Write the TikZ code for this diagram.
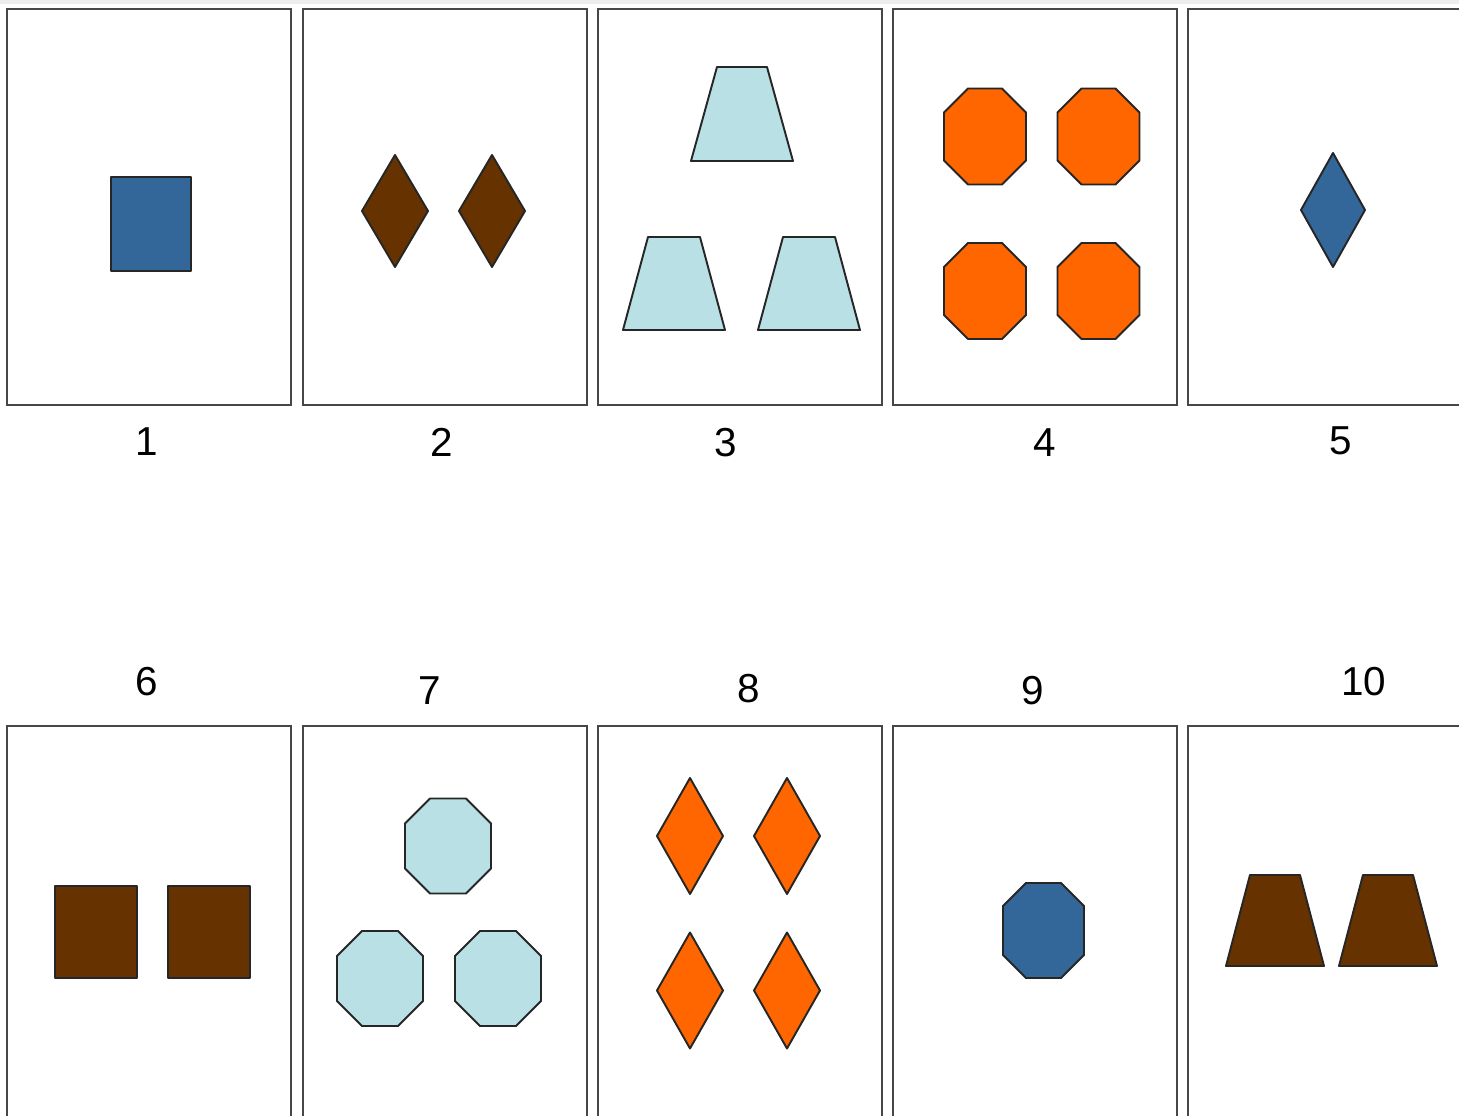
\documentclass[tikz,border=0pt]{standalone}
\usepackage{fontspec}
\setmainfont{Liberation Sans}
\usetikzlibrary{positioning}
\definecolor{cardblue}{HTML}{336699}
\definecolor{cardbrown}{HTML}{663300}
\definecolor{cardcyan}{HTML}{B9E0E4}
\definecolor{cardorange}{HTML}{FF6600}
\tikzset{
  card/.style={draw=black!72, line width=0.7pt, fill=white},
  shp/.style={draw=black!85, line width=0.55pt, line join=round},
  num/.style={font=\fontsize{11.5}{14}\selectfont, inner sep=0pt},
}
% diamond: centre x, centre y, half width, half height, fill
\newcommand{\rhomb}[5]{\filldraw[shp,fill=#5] (#1-#3,#2) -- (#1,#2-#4) -- (#1+#3,#2) -- (#1,#2+#4) -- cycle;}
% octagon: centre x, centre y, half width, half height, corner cut, fill
\newcommand{\octa}[6]{\filldraw[shp,fill=#6] (#1-#3+#5,#2-#4) -- (#1+#3-#5,#2-#4) -- (#1+#3,#2-#4+#5)
  -- (#1+#3,#2+#4-#5) -- (#1+#3-#5,#2+#4) -- (#1-#3+#5,#2+#4) -- (#1-#3,#2+#4-#5) -- (#1-#3,#2-#4+#5) -- cycle;}
% trapezoid: centre x, top y, bottom y, half top, half bottom, fill
\newcommand{\trap}[6]{\filldraw[shp,fill=#6] (#1-#4,#2) -- (#1+#4,#2) -- (#1+#5,#3) -- (#1-#5,#3) -- cycle;}

\begin{document}
\begin{tikzpicture}[x=0.01cm, y=-0.01cm]
  \useasboundingbox (0,0) rectangle (1459,1116);
  \clip (0,0) rectangle (1459,1116);
  \fill[black!7] (0,0) rectangle (1459,4);
  % card frames, top row and bottom row (cut at the page edge)
  \foreach \x in {7,303,598,893,1188}{
    \draw[card] (\x,9) rectangle ++(284,396);
    \draw[card] (\x,726) rectangle ++(284,450);
  }
  % card 1
  \filldraw[shp,fill=cardblue] (111,177) rectangle (191,271);
  % card 2
  \rhomb{395}{211}{33}{56}{cardbrown}
  \rhomb{492}{211}{33}{56}{cardbrown}
  % card 3
  \trap{742}{67}{161}{25}{51}{cardcyan}
  \trap{674}{237}{330}{26}{51}{cardcyan}
  \trap{809}{237}{330}{26}{51}{cardcyan}
  % card 4
  \foreach \cx in {985,1098.5}{
    \foreach \cy in {136.5,291}{
      \octa{\cx}{\cy}{41}{48}{24}{cardorange}
    }
  }
  % card 5
  \rhomb{1333}{210}{32}{57}{cardblue}
  % card 6
  \filldraw[shp,fill=cardbrown] (55,886) rectangle (137,978);
  \filldraw[shp,fill=cardbrown] (168,886) rectangle (250,978);
  % card 7
  \octa{448}{846}{43}{47.5}{25}{cardcyan}
  \octa{380}{978.5}{43}{47.5}{25}{cardcyan}
  \octa{498}{978.5}{43}{47.5}{25}{cardcyan}
  % card 8
  \foreach \cx in {690,787}{
    \foreach \cy in {836,990.5}{
      \rhomb{\cx}{\cy}{33}{58}{cardorange}
    }
  }
  % card 9
  \octa{1043.5}{930.5}{40.5}{47.5}{23}{cardblue}
  % card 10
  \trap{1275}{875}{966}{25}{49}{cardbrown}
  \trap{1388}{875}{966}{25}{49}{cardbrown}
  % card numbers
  \foreach \n/\x/\y in {1/147/442, 2/442/442, 3/726/443, 4/1045/443, 5/1341/441,
                        6/147/682, 7/430/691, 8/749/689, 9/1033/691, 10/1364/682}{
    \node[num] (n\n) at (\x,\y) {\n};
  }
\end{tikzpicture}
\end{document}
